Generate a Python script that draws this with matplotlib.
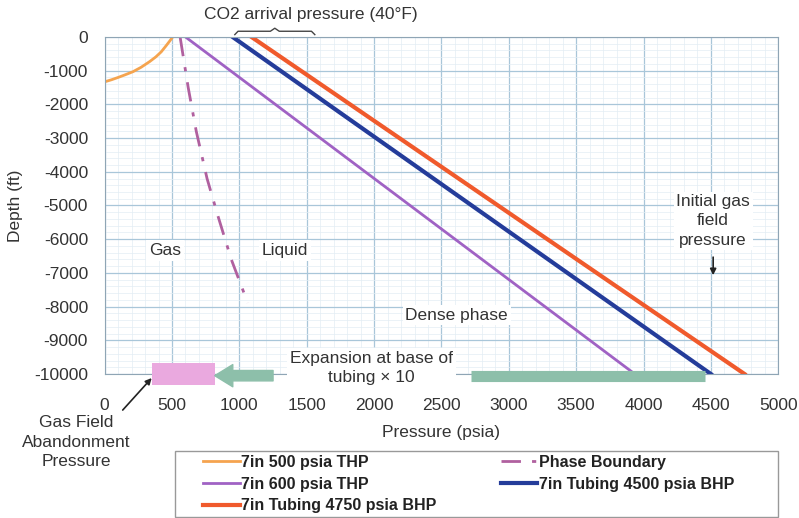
import matplotlib
matplotlib.use("Agg")
import matplotlib.pyplot as plt
from matplotlib.patches import Rectangle
from matplotlib.ticker import MultipleLocator

plt.rcParams["font.family"] = ["Liberation Sans", "DejaVu Sans"]
plt.rcParams["axes.unicode_minus"] = False

# --- data (pressure psia, depth ft) ---
thp500_p = [0, 50, 100, 150, 210, 270, 334, 380, 420, 458, 482, 505]
thp500_d = [-1330, -1270, -1200, -1125, -1030, -900, -730, -590, -440, -250, -125, 0]

thp600_p = [600, 3935]
thp600_d = [0, -10000]

bhp4500_p = [950, 4500]
bhp4500_d = [0, -10000]

bhp4750_p = [1090, 4750]
bhp4750_d = [0, -10000]

phase_p = [560, 620, 680, 760, 840, 940, 1062]
phase_d = [0, -1500, -2800, -4200, -5300, -6600, -7890]

abandon_p = [350, 817]          # pink band
expansion_p = [2720, 4460]      # green bar at base of tubing
expansion_arrow_p = [1250, 817]

x_ticks = list(range(0, 5001, 500))
y_ticks = list(range(-10000, 1, 1000))

TXT = "#333333"
GREEN = "#8dbfaa"
PINK = "#eaa9df"

fig = plt.figure(figsize=(7.99, 5.18), dpi=100)
ax = fig.add_axes([0.131, 0.278, 0.843, 0.6506])

ax.plot(thp500_p, thp500_d, color="#f5a44f", lw=2.0, label="7in 500 psia THP")
ax.plot(thp600_p, thp600_d, color="#a062c4", lw=2.0, label="7in 600 psia THP")
ax.plot(bhp4750_p, bhp4750_d, color="#f05a2c", lw=3.0, label="7in Tubing 4750 psia BHP")
ax.plot(phase_p, phase_d, color="#b0609f", lw=2.0, ls=(0, (7, 4, 1.5, 4)),
        label="Phase Boundary")
ax.plot(bhp4500_p, bhp4500_d, color="#243c9a", lw=3.0, label="7in Tubing 4500 psia BHP")

ax.set_xlim(0, 5000)
ax.set_ylim(-10000, 0)
ax.set_xticks(x_ticks)
ax.set_yticks(y_ticks)
ax.xaxis.set_minor_locator(MultipleLocator(100))
ax.yaxis.set_minor_locator(MultipleLocator(200))
ax.grid(which="major", color="#a9c6d9", lw=0.9)
ax.grid(which="minor", color="#e3edf4", lw=0.5)
ax.set_axisbelow(True)
ax.tick_params(which="both", length=0, labelsize=12.5, labelcolor=TXT)
ax.tick_params(axis="x", pad=17)
ax.tick_params(axis="y", pad=12)
for s in ax.spines.values():
    s.set_color("#8fa5b5")
ax.set_xlabel("Pressure (psia)", fontsize=12.5, color=TXT, labelpad=9)
ax.set_ylabel("Depth (ft)", fontsize=12.5, color=TXT, labelpad=8)

box = dict(facecolor="white", edgecolor="none", pad=2)
ax.text(446, -6340, "Gas", fontsize=12.5, color=TXT, ha="center", va="center", bbox=box)
ax.text(1337, -6340, "Liquid", fontsize=12.5, color=TXT, ha="center", va="center", bbox=box)
ax.text(2613, -8250, "Dense phase", fontsize=12.5, color=TXT, ha="center", va="center", bbox=box)
ax.text(4517, -5460, "Initial gas\nfield\npressure", fontsize=12.5, color=TXT,
        ha="center", va="center", linespacing=1.35, bbox=box)
ax.annotate("", xy=(4517, -7150), xytext=(4517, -6450),
            arrowprops=dict(arrowstyle="-|>", color="#222222", lw=1.2, mutation_scale=9))
ax.text(1982, -9820, "Expansion at base of\ntubing \u00d7 10", fontsize=12.5, color=TXT,
        ha="center", va="center", linespacing=1.35, bbox=box, zorder=5)

# CO2 arrival pressure + brace
ax.text(1530, 680, "CO2 arrival pressure (40\u00b0F)", fontsize=12.5, color=TXT,
        ha="center", va="center", clip_on=False)
brace_x = [966, 990, 1230, 1263, 1296, 1535, 1560]
brace_y = [70, 170, 170, 260, 170, 170, 70]
ax.plot(brace_x, brace_y, color="#444444", lw=1.0, clip_on=False)

# abandonment band and expansion arrow / bar
ax.add_patch(Rectangle((abandon_p[0], -10330), abandon_p[1] - abandon_p[0], 650,
                       facecolor=PINK, edgecolor="none", clip_on=False, zorder=6))
ax.annotate("", xy=(expansion_arrow_p[1], -10050), xytext=(expansion_arrow_p[0], -10050),
            arrowprops=dict(arrowstyle="simple,head_length=1.3,head_width=1.6,tail_width=0.75",
                            color=GREEN, mutation_scale=10, shrinkA=0, shrinkB=0),
            annotation_clip=False, zorder=6)
ax.plot(expansion_p, [-10050, -10050], color=GREEN, lw=8, solid_capstyle="butt",
        clip_on=False, zorder=6)

ax.text(-208, -12020, "Gas Field\nAbandonment\nPressure", fontsize=12.5, color=TXT,
        ha="center", va="center", linespacing=1.35, clip_on=False)
ax.annotate("", xy=(349, -10120), xytext=(134, -11070),
            arrowprops=dict(arrowstyle="-|>", color="#222222", lw=1.2, mutation_scale=9,
                            shrinkA=0, shrinkB=0),
            annotation_clip=False)

# legend: frame drawn separately so the columns can sit where they do in the original
fig.add_artist(Rectangle((175 / 799, 1 / 518), 603 / 799, 66 / 518, transform=fig.transFigure,
                         facecolor="white", edgecolor="#999999", lw=1.0))
leg = fig.legend(loc="upper left", bbox_to_anchor=(203 / 799, 1 - 455 / 518),
                 ncol=2, frameon=False, prop={"weight": "bold", "size": 11.5},
                 handlelength=2.3, handletextpad=0.1, labelspacing=0.42,
                 columnspacing=4.0, borderaxespad=0, borderpad=0)
for t in leg.get_texts():
    t.set_color("#222222")

fig.savefig("out.png", dpi=100)
